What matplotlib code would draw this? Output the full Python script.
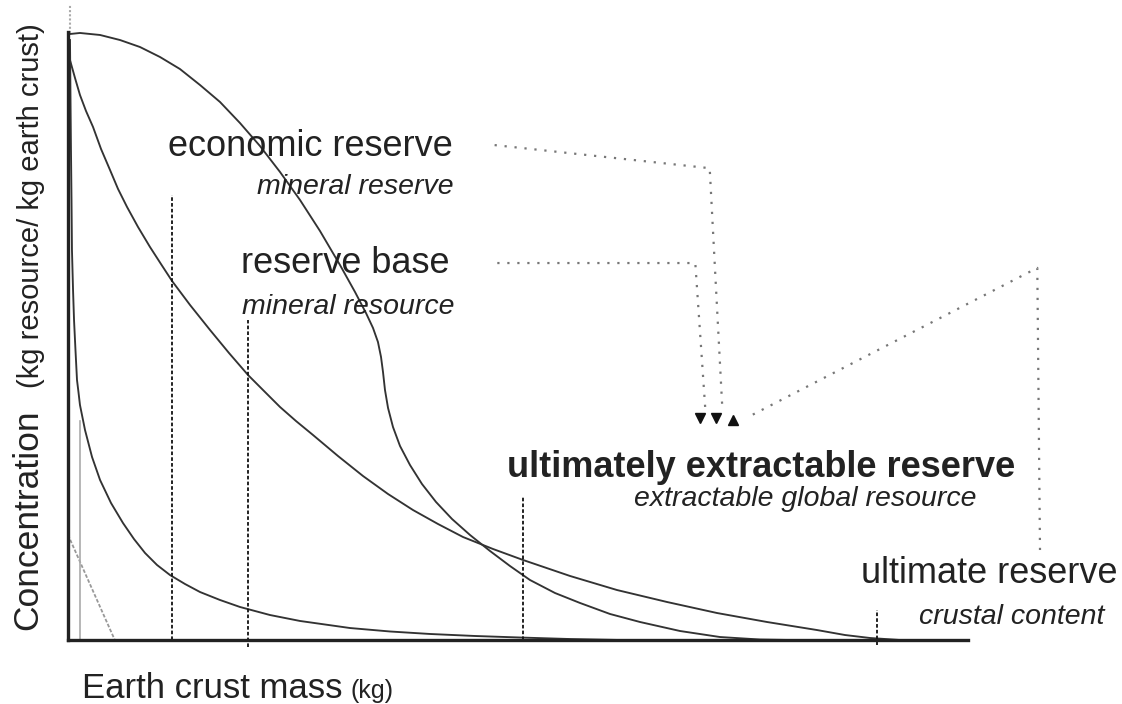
import matplotlib
matplotlib.use("Agg")
import matplotlib.pyplot as plt

plt.rcParams['font.family'] = ['Liberation Sans', 'DejaVu Sans']

# curves (x = crust mass, y = concentration, both 0-100)
econ_x = [0.22, 1.33, 3.56, 5.78, 8.0, 10.22, 12.44, 14.67, 16.89, 19.11, 21.33, 23.56,
          25.78, 28.0, 30.22, 31.89, 33.11, 33.89, 34.44, 34.78, 35.0, 35.22, 35.56,
          36.11, 36.89, 38.0, 39.33, 40.89, 42.67, 44.67, 46.89, 49.11, 51.33, 54.11,
          56.89, 60.22, 63.56, 68.0, 72.44, 76.89, 80.22]
econ_y = [99.67, 99.84, 99.51, 98.68, 97.53, 95.89, 93.91, 91.28, 88.49, 85.03, 81.25, 76.97,
          72.37, 67.27, 61.68, 57.24, 53.78, 51.32, 49.01, 46.55, 44.08, 41.12, 38.16,
          35.03, 31.91, 28.78, 25.66, 22.70, 19.90, 17.27, 14.64, 12.17, 9.87, 7.73,
          6.09, 4.28, 2.96, 1.48, 0.49, 0.08, 0.0]

base_x = [0.22, 0.78, 1.33, 2.0, 2.78, 3.67, 4.67, 5.56, 6.56, 7.78, 9.11, 10.33, 11.56,
          13.56, 15.78, 17.89, 20.0, 21.78, 23.56, 25.33, 27.22, 30.0, 32.78, 35.56,
          38.33, 41.11, 43.89, 47.22, 50.56, 55.78, 61.0, 66.56, 72.11, 77.67, 83.22,
          86.33, 89.11, 92.44]
base_y = [95.39, 92.43, 89.64, 87.01, 84.38, 80.76, 77.30, 74.18, 71.22, 67.93, 64.64, 61.84,
          59.05, 55.10, 50.99, 47.20, 43.59, 40.95, 38.32, 36.02, 33.72, 30.26, 26.97,
          24.01, 21.38, 19.08, 16.94, 14.97, 13.16, 10.53, 8.22, 6.25, 4.44, 2.96, 1.64,
          0.82, 0.33, 0.0]

steep_x = [0.22, 0.28, 0.33, 0.39, 0.44, 0.56, 0.67, 0.83, 1.0, 1.17, 1.33, 1.89, 2.67,
           3.56, 4.78, 6.11, 7.33, 8.56, 9.89, 11.33, 13.0, 14.67, 16.89, 19.11, 22.44,
           25.78, 31.33, 35.78, 40.22, 45.22, 50.22, 55.78, 61.33]
steep_y = [98.68, 88.82, 80.59, 72.37, 64.14, 57.57, 52.63, 47.70, 42.76, 40.7, 38.65, 34.54,
           30.10, 26.32, 22.53, 19.24, 16.61, 14.31, 12.34, 10.69, 9.21, 7.89, 6.58, 5.43,
           4.11, 3.13, 1.97, 1.40, 0.99, 0.66, 0.41, 0.16, 0.0]

grey_x = [0.0, 5.2]
grey_y = [17.3, 0.0]

# cut-off markers: x position, top of marker, bottom of marker
cut_x = [11.6, 20.0, 50.6, 89.9]
cut_top = [73.2, 52.6, 23.5, 4.9]
cut_bot = [0.0, -1.2, 0.0, -0.8]

# dotted pointers towards the arrows
ptr_econ_x = [47.4, 71.3, 72.7]
ptr_econ_y = [81.4, 77.6, 38.2]
ptr_base_x = [47.7, 69.7, 70.8]
ptr_base_y = [62.0, 62.0, 38.2]
ptr_ult_x = [108.0, 107.7, 75.6]
ptr_ult_y = [14.8, 61.2, 36.7]
arrow_x = [70.2, 72.0, 73.9]
arrow_y = [36.5, 36.5, 36.2]
arrow_mk = ['v', 'v', '^']

labels_big = ["economic reserve", "reserve base", "ultimately extractable reserve", "ultimate reserve"]
labels_small = ["mineral reserve", "mineral resource", "extractable global resource", "crustal content"]

fig = plt.figure(figsize=(11.22, 7.04), dpi=100)
ax = fig.add_axes([68 / 1122, 64 / 704, 900 / 1122, 608 / 704])
ax.set_xlim(0, 100)
ax.set_ylim(0, 100)
ax.set_xticks([])
ax.set_yticks([])
for s in ['top', 'right']:
    ax.spines[s].set_visible(False)
for s in ['left', 'bottom']:
    ax.spines[s].set_linewidth(2.4)
    ax.spines[s].set_color('#222222')

line_c = '#333333'
for cx, cy in [(econ_x, econ_y), (base_x, base_y), (steep_x, steep_y)]:
    ax.plot(cx, cy, color=line_c, lw=1.35, clip_on=False, solid_joinstyle='round')
ax.plot(grey_x, grey_y, color='#999999', lw=1.3, ls=(0, (2, 1)), clip_on=False)
ax.plot([1.3, 1.3], [0, 36], color='#aaaaaa', lw=1.2, clip_on=False)
ax.plot([0.2, 0.2], [99.8, 104.4], color='#aaaaaa', lw=1.5, ls=(0, (1, 1)), clip_on=False)

for x, t, b in zip(cut_x, cut_top, cut_bot):
    ax.plot([x, x], [b, t], color='#111111', lw=1.3, ls=(0, (2, 1.2)), clip_on=False)

dot_c = '#777777'
for px, py in [(ptr_econ_x, ptr_econ_y), (ptr_base_x, ptr_base_y), (ptr_ult_x, ptr_ult_y)]:
    ax.plot(px, py, color=dot_c, lw=1.6, ls=(0, (1, 3.5)), clip_on=False)
for x, y, m in zip(arrow_x, arrow_y, arrow_mk):
    ax.plot(x, y, marker=m, color='#111111', ms=7, clip_on=False)

txt_c = '#222222'
big_pos = [(42.8, 81.1), (42.4, 62.0), (105.2, 28.4), (116.6, 11.0)]
small_pos = [(42.8, 74.5), (43.0, 54.8), (101.0, 23.2), (115.2, 3.8)]
for i, (lab, (x, y)) in enumerate(zip(labels_big, big_pos)):
    ax.text(x, y, lab, ha='right', va='center', fontsize=26, color=txt_c,
            fontweight='bold' if i == 2 else 'normal', clip_on=False)
for lab, (x, y) in zip(labels_small, small_pos):
    ax.text(x, y, lab, ha='right', va='center', fontsize=20.5, color=txt_c,
            style='italic', clip_on=False)

fig.text(82 / 1122, 1 - 698 / 704, "Earth crust mass", fontsize=25, color=txt_c, va='baseline', ha='left')
fig.text(350 / 1122, 1 - 698 / 704, "(kg)", fontsize=18, color=txt_c, va='baseline', ha='left')
fig.text(28 / 1122, 1 - 520 / 704, "Concentration", fontsize=25.5, color=txt_c,
         rotation=90, va='center', ha='center')
fig.text(31 / 1122, 1 - 206 / 704, "(kg resource/ kg earth crust)", fontsize=21, color=txt_c,
         rotation=90, va='center', ha='center')

fig.savefig("out.png", dpi=100)
